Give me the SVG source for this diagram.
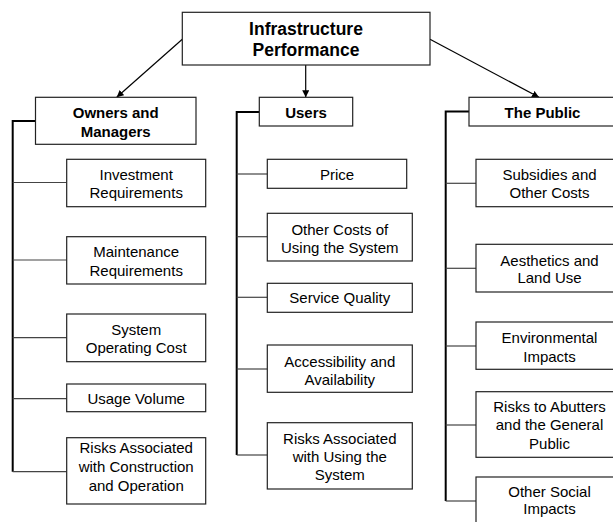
<svg xmlns="http://www.w3.org/2000/svg" width="613" height="522" viewBox="0 0 613 522">
<defs>
<style>
.box{fill:#fff;stroke:#222;stroke-width:1.2}
.t{font-family:"Liberation Sans",Arial,sans-serif;font-size:15px;fill:#000;text-anchor:middle}
.h{font-weight:bold}
.tt{font-family:"Liberation Sans",Arial,sans-serif;font-size:17.5px;font-weight:bold;fill:#000;text-anchor:middle}
.main{stroke:#000;stroke-width:2;fill:none}
.br{stroke:#444;stroke-width:1.2;fill:none}
.arr{stroke:#000;stroke-width:1.2;fill:none;marker-end:url(#ah)}
</style>
<marker id="ah" viewBox="0 0 10 10" refX="10" refY="5" markerWidth="7" markerHeight="7" markerUnits="userSpaceOnUse" orient="auto">
<path d="M0,0 L10,5 L0,10 z" fill="#000"/>
</marker>
</defs>
<rect width="613" height="522" fill="#fff"/>
<g id="connectors">
<line class="arr" x1="182.3" y1="39.3" x2="116.7" y2="97.3"/>
<line class="arr" x1="305.7" y1="65" x2="305.7" y2="97.3"/>
<line class="arr" x1="430" y1="39.3" x2="539" y2="97.3"/>
<polyline class="main" points="35,121 12.7,121 12.7,471.7"/>
<line class="br" x1="12.7" y1="182.5" x2="66.7" y2="182.5"/>
<line class="br" x1="12.7" y1="260" x2="66.7" y2="260"/>
<line class="br" x1="12.7" y1="337.7" x2="66.7" y2="337.7"/>
<line class="br" x1="12.7" y1="398.7" x2="66.7" y2="398.7"/>
<line class="br" x1="12.7" y1="471.7" x2="66.7" y2="471.7"/>
<polyline class="main" points="259.3,112 236.7,112 236.7,455"/>
<line class="br" x1="236.7" y1="174" x2="267.3" y2="174"/>
<line class="br" x1="236.7" y1="236.7" x2="267.3" y2="236.7"/>
<line class="br" x1="236.7" y1="297.3" x2="267.3" y2="297.3"/>
<line class="br" x1="236.7" y1="369" x2="267.3" y2="369"/>
<line class="br" x1="236.7" y1="455" x2="267.3" y2="455"/>
<polyline class="main" points="469,111.5 445.7,111.5 445.7,501"/>
<line class="br" x1="445.7" y1="183.3" x2="476" y2="183.3"/>
<line class="br" x1="445.7" y1="268.3" x2="476" y2="268.3"/>
<line class="br" x1="445.7" y1="346" x2="476" y2="346"/>
<line class="br" x1="445.7" y1="425" x2="476" y2="425"/>
<line class="br" x1="445.7" y1="501" x2="476" y2="501"/>
</g>
<g id="infrastructure-performance">
<rect class="box" x="182.3" y="12.3" width="247.7" height="52.7"/>
<text class="tt" x="306" y="35">Infrastructure</text>
<text class="tt" x="306" y="56">Performance</text>
</g>
<g id="owners-and-managers">
<rect class="box" x="35.5" y="97.3" width="160.5" height="47"/>
<text class="t h" x="115.7" y="118">Owners and</text>
<text class="t h" x="115.7" y="136.7">Managers</text>
</g>
<g id="users">
<rect class="box" x="259.3" y="97.3" width="93.4" height="28.7"/>
<text class="t h" x="306" y="117.5">Users</text>
</g>
<g id="the-public">
<rect class="box" x="469" y="97.3" width="148" height="28.7"/>
<text class="t h" x="542.5" y="118.3">The Public</text>
</g>
<g id="investment-requirements">
<rect class="box" x="66.7" y="159.3" width="139" height="47.4"/>
<text class="t" x="136.2" y="180">Investment</text>
<text class="t" x="136.2" y="198.3">Requirements</text>
</g>
<g id="maintenance-requirements">
<rect class="box" x="66.7" y="236.7" width="139" height="47.3"/>
<text class="t" x="136.2" y="257.3">Maintenance</text>
<text class="t" x="136.2" y="275.7">Requirements</text>
</g>
<g id="system-operating-cost">
<rect class="box" x="66.7" y="314" width="139" height="47.7"/>
<text class="t" x="136.2" y="335">System</text>
<text class="t" x="136.2" y="353.3">Operating Cost</text>
</g>
<g id="usage-volume">
<rect class="box" x="66.7" y="384" width="139" height="27.7"/>
<text class="t" x="136.2" y="404">Usage Volume</text>
</g>
<g id="risks-construction-operation">
<rect class="box" x="66.7" y="437.7" width="139" height="66.3"/>
<text class="t" x="136.2" y="453">Risks Associated</text>
<text class="t" x="136.2" y="471.7">with Construction</text>
<text class="t" x="136.2" y="491">and Operation</text>
</g>
<g id="price">
<rect class="box" x="267.3" y="159.3" width="139.4" height="29"/>
<text class="t" x="337" y="180">Price</text>
</g>
<g id="other-costs">
<rect class="box" x="267.3" y="213.3" width="145" height="47.7"/>
<text class="t" x="339.8" y="235">Other Costs of</text>
<text class="t" x="339.8" y="252.7">Using the System</text>
</g>
<g id="service-quality">
<rect class="box" x="267.3" y="283.3" width="145" height="29"/>
<text class="t" x="339.8" y="303.3">Service Quality</text>
</g>
<g id="accessibility-availability">
<rect class="box" x="267.3" y="345" width="145" height="47.3"/>
<text class="t" x="339.8" y="366.7">Accessibility and</text>
<text class="t" x="339.8" y="385">Availability</text>
</g>
<g id="risks-using-system">
<rect class="box" x="267.3" y="422.7" width="145" height="66.3"/>
<text class="t" x="339.8" y="444">Risks Associated</text>
<text class="t" x="339.8" y="461.7">with Using the</text>
<text class="t" x="339.8" y="480">System</text>
</g>
<g id="subsidies-other-costs">
<rect class="box" x="476" y="159.3" width="147" height="47.4"/>
<text class="t" x="549.5" y="180">Subsidies and</text>
<text class="t" x="549.5" y="198.3">Other Costs</text>
</g>
<g id="aesthetics-land-use">
<rect class="box" x="476" y="244.3" width="147" height="47.7"/>
<text class="t" x="549.5" y="265.7">Aesthetics and</text>
<text class="t" x="549.5" y="283.3">Land Use</text>
</g>
<g id="environmental-impacts">
<rect class="box" x="476" y="322" width="147" height="47.3"/>
<text class="t" x="549.5" y="343.3">Environmental</text>
<text class="t" x="549.5" y="361.7">Impacts</text>
</g>
<g id="risks-abutters-public">
<rect class="box" x="476" y="391.7" width="147" height="65.6"/>
<text class="t" x="549.5" y="411.7">Risks to Abutters</text>
<text class="t" x="549.5" y="430">and the General</text>
<text class="t" x="549.5" y="449.3">Public</text>
</g>
<g id="other-social-impacts">
<rect class="box" x="476" y="477" width="147" height="60"/>
<text class="t" x="549.5" y="497">Other Social</text>
<text class="t" x="549.5" y="514">Impacts</text>
</g>
</svg>
